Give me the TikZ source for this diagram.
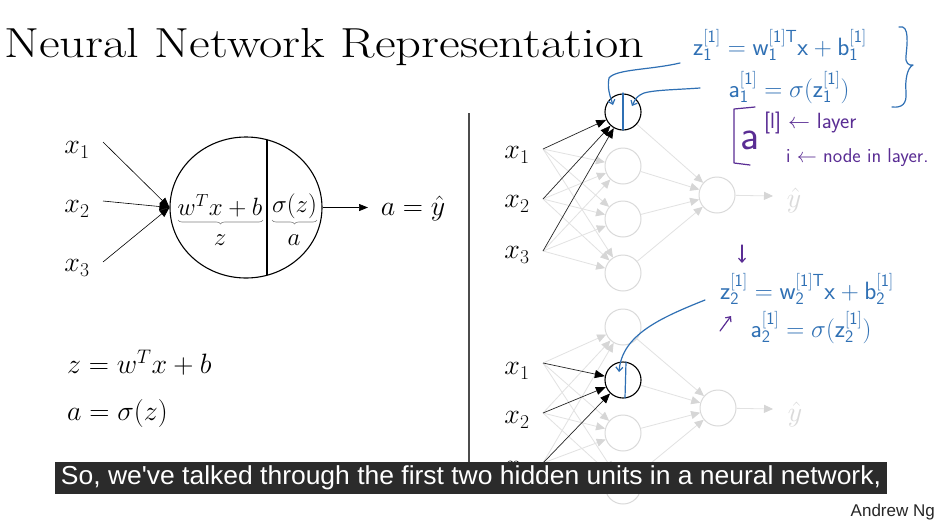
\RequirePackage{fix-cm}
\documentclass[tikz,border=0pt]{standalone}
\usepackage{fontspec}
\usepackage{graphicx}
\usetikzlibrary{arrows.meta,calc,shapes.geometric,decorations.pathreplacing}
\newfontfamily\capfont{Liberation Sans}
\definecolor{inkblue}{HTML}{2F70B4}
\definecolor{inkpurple}{HTML}{5A2D94}
\definecolor{fadeline}{HTML}{E2E2E2}
\definecolor{fadetip}{HTML}{D6D6D6}
\definecolor{fadecirc}{HTML}{DADADA}
\definecolor{subbg}{HTML}{2B2B2B}
\newcommand\mathsz{\fontsize{28}{32}\selectfont}
\newcommand\innersz{\fontsize{25}{28}\selectfont}
\newcommand\inksz{\fontsize{25}{28}\selectfont}
\begin{document}
\begin{tikzpicture}[x=1pt,y=-1pt,
  math/.style={inner sep=0pt, font=\mathsz},
  fadeunit/.style={circle, draw=fadecirc, line width=1pt, fill=white, minimum size=36pt, inner sep=0pt},
  liveunit/.style={circle, draw=black, line width=1.1pt, fill=white, minimum size=36pt, inner sep=0pt},
  fadearrow/.style={draw=fadeline, line width=0.8pt, -{Triangle[length=9pt,width=8pt,color=fadetip]}},
  livearrow/.style={draw=black!85, line width=0.7pt, -{Triangle[length=10pt,width=8pt,color=black]}},
  ink/.style={draw=inkblue, line width=1.2pt, line cap=round, line join=round},
  inkp/.style={draw=inkpurple, line width=1.2pt, line cap=round, line join=round},
  barb/.style={-{Straight Barb[length=4pt,width=7pt]}},
  inktext/.style={inner sep=0pt, text=inkblue, font=\inksz},
]
\useasboundingbox (0,0) rectangle (940,523);
\fill[white] (0,0) rectangle (940,523);

% ---------- title ----------
\node[anchor=base west, inner sep=0pt, font=\fontsize{42}{46}\selectfont] (title) at (4,57)
  {\resizebox{640pt}{\height}{Neural Network Representation}};

% ---------- single neuron ----------
\node[ellipse, draw, line width=1.1pt, minimum width=152pt, minimum height=141pt, inner sep=0pt] (neuron) at (246,207.5) {};
\draw[line width=1.1pt] ($(neuron.center)+(21,-67.8)$) coordinate (splittop) -- ($(neuron.center)+(21,67.8)$) coordinate (splitbot);

\node[math] (lx1) at (77,150) {$x_1$};
\node[math] (lx2) at (77,209) {$x_2$};
\node[math] (lx3) at (77,268) {$x_3$};
\coordinate (sx1) at (103,142);
\coordinate (sx2) at (103,201);
\coordinate (sx3) at (103,262);
\foreach \k in {1,2,3}
  \draw[line width=0.6pt, -{Triangle[length=10pt,width=8pt]}] (sx\k) -- (neuron.west);

\node[math, font=\innersz] (lin) at (220,206) {$w^Tx+b$};
\node[math, font=\innersz] (act) at (294.5,206) {$\sigma(z)$};
\draw[gray, line width=0.6pt, decorate, decoration={brace, mirror, amplitude=4pt}] (178,220) -- (263,220);
\draw[gray, line width=0.6pt, decorate, decoration={brace, mirror, amplitude=4pt}] (272,220) -- (317,220);
\node[math, font=\innersz] (zlab) at (220,240) {$z$};
\node[math, font=\innersz] (alab) at (294,240) {$a$};

\coordinate (outtip) at (368,207.5);
\draw[line width=0.7pt, -{Triangle[length=9pt,width=7pt]}] (neuron.east) -- (outtip);
\node[math] (ayhat) at (413,208) {$a=\hat{y}$};

\node[math, anchor=west] (eqz) at (67,363) {$z=w^Tx+b$};
\node[math, anchor=west] (eqa) at (67,413) {$a=\sigma(z)$};

% ---------- divider ----------
\coordinate (divtop) at (469,113);
\coordinate (divbot) at (469,462);
\draw[black!70, line width=1.2pt] (divtop) -- (divbot);

% ---------- upper network (first hidden unit) ----------
\foreach \j/\y in {1/112,2/166,3/219,4/273}
  \node[fadeunit] (t\j) at (623,\y) {};
\node[fadeunit] (tout) at (717,195) {};
\node[math, text=fadecirc] (tyh) at (794,200) {$\hat{y}$};
\coordinate (tyhtip) at (773,196);
\node[math] (tx1) at (517,155) {$x_1$};
\node[math] (tx2) at (517,204) {$x_2$};
\node[math] (tx3) at (517,255) {$x_3$};
\coordinate (ts1) at (543,149);
\coordinate (ts2) at (543,199);
\coordinate (ts3) at (543,251);
\foreach \i in {1,2,3}
  \foreach \j in {2,3,4}
    \draw[fadearrow] (ts\i) -- (t\j);
\foreach \j in {1,2,3,4}
  \draw[fadearrow] (t\j) -- (tout);
\draw[fadearrow] (tout) -- (tyhtip);
\node[liveunit] (t1) at (623,112) {};
\foreach \i in {1,2,3}
  \draw[livearrow] (ts\i) -- (t1);

% ---------- lower network (second hidden unit) ----------
\foreach \j/\y in {1/327,2/380,3/433,4/486}
  \node[fadeunit] (b\j) at (623,\y) {};
\node[fadeunit] (bout) at (718,408) {};
\node[math, text=fadecirc] (byh) at (795,414) {$\hat{y}$};
\coordinate (byhtip) at (773,409);
\node[math] (bx1) at (517,371) {$x_1$};
\node[math] (bx2) at (517,420) {$x_2$};
\node[math] (bx3) at (517,470) {$x_3$};
\coordinate (bs1) at (543,363);
\coordinate (bs2) at (543,413);
\coordinate (bs3) at (543,463);
\foreach \i in {1,2,3}
  \foreach \j in {1,3,4}
    \draw[fadearrow] (bs\i) -- (b\j);
\foreach \j in {1,2,3,4}
  \draw[fadearrow] (b\j) -- (bout);
\draw[fadearrow] (bout) -- (byhtip);
\node[liveunit] (b2) at (623,380) {};
\foreach \i in {1,2,3}
  \draw[livearrow] (bs\i) -- (b2);

% ---------- handwritten notes, upper unit ----------
\node[inktext] (tz) at (780,45) {$\mathsf{z_1^{[1]} = w_1^{[1]T}x + b_1^{[1]}}$};
\node[inktext] (ta) at (789,88) {$\mathsf{a_1^{[1]}} = \sigma(\mathsf{z_1^{[1]}})$};
\draw[ink] (623,93) -- (623,130);
\draw[ink, barb] (680,63) .. controls (650,70) and (616,69) .. (609,78) .. controls (607,88) and (610,96) .. (613,105);
\draw[ink, barb] (700,88) .. controls (672,90) and (646,90) .. (640,95) .. controls (636,98) .. (632,106);
\draw[ink] (899,27) .. controls (910,24) and (907,45) .. (906,56) .. controls (905,63) and (909,66) .. (913,65)
  .. controls (907,68) and (905,80) .. (906,92) .. controls (907,104) and (902,108) .. (892,107);

\draw[inkp] (755,107) -- (734,109) -- (734,163) -- (750,165);
\node[inner sep=0pt, text=inkpurple, font=\fontsize{42}{46}\selectfont\sffamily] (abig) at (750,140) {a};
\node[inner sep=0pt, anchor=west, text=inkpurple, font=\fontsize{22}{26}\selectfont\sffamily] (lay) at (764,123) {[l] $\leftarrow$ layer};
\node[inner sep=0pt, anchor=west, text=inkpurple, font=\fontsize{20}{24}\selectfont\sffamily] (nod) at (786,158) {i $\leftarrow$ node in layer.};

% ---------- handwritten notes, lower unit ----------
\coordinate (pd1) at (742,245);
\coordinate (pd2) at (742,263);
\draw[inkp, barb] (pd1) -- (pd2);
\node[inktext] (bz) at (807,289) {$\mathsf{z_2^{[1]} = w_2^{[1]T}x + b_2^{[1]}}$};
\coordinate (pu1) at (720,331);
\coordinate (pu2) at (731,316);
\draw[inkp, barb] (pu1) -- (pu2);
\node[inktext] (ba) at (811,328) {$\mathsf{a_2^{[1]}} = \sigma(\mathsf{z_2^{[1]}})$};
\draw[ink] (626,362) -- (625,398);
\draw[ink, barb] (705,300) .. controls (660,318) and (622,335) .. (619,372);

% ---------- caption bar ----------
\node[fill=subbg, text=white, minimum width=832pt, minimum height=32pt, inner sep=0pt] (caption) at (471,478)
  {\resizebox{820pt}{\height}{\capfont\fontsize{26}{30}\selectfont So, we've talked through the first two hidden units in a neural network,}};
\node[anchor=base east, inner sep=0pt, font=\capfont\fontsize{17}{20}\selectfont, text=black!85] (author) at (935,516) {Andrew Ng};
\end{tikzpicture}
\end{document}
